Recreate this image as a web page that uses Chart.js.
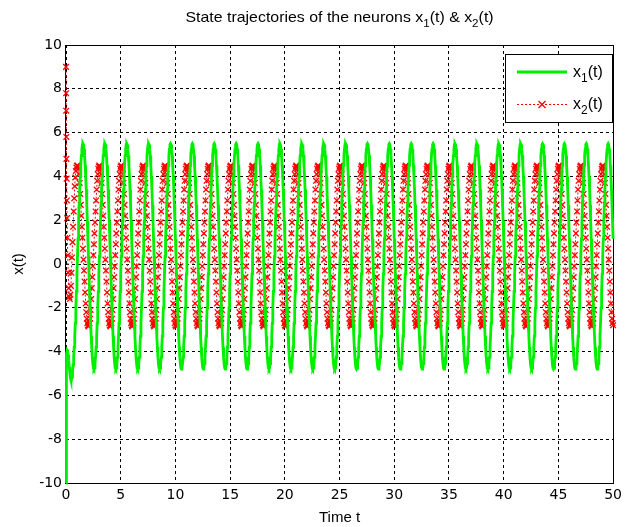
<!DOCTYPE html>
<html>
<head>
<meta charset="utf-8">
<script src="https://cdn.jsdelivr.net/npm/chart.js@4/dist/chart.umd.min.js"></script>
<style>
  html, body { margin: 0; padding: 0; background: #fff; }
  canvas { display: block; }
</style>
</head>
<body>
<canvas id="chart" width="626" height="527"></canvas>
<script>
// start-up part (solver steps are short near t = 0)
const tStart = [0, 0.01, 0.02, 0.03, 0.04, 0.06, 0.08, 0.1, 0.13, 0.16,
  0.2, 0.25, 0.3, 0.35, 0.4, 0.45, 0.5, 0.55, 0.6, 0.65, 0.7, 0.75, 0.8, 0.85, 0.9, 0.95, 1.0]
const x1Start = [-10, -8.6, -7.3, -6.2, -5.3, -4.5, -4.1, -3.95, -3.9, -4.0,
  -4.15, -4.4, -4.7, -5.0, -5.2, -5.3, -5.3, -5.15, -4.9, -4.6, -4.25, -3.8, -3.3, -2.7, -2.0, -1.25, -0.45]
const x2Start = [9.0, 7.8, 7.0, 5.8, 4.8, 3.9, 2.9, 2.1, 1.2, 0.4,
  -0.4, -1.1, -1.5, -1.6, -1.4, -1.0, -0.4, 0.3, 1.0, 1.7, 2.4, 3.0, 3.55, 3.95, 4.25, 4.4, 4.48]

// after that both states repeat with a period of 2; one period, sampled every dt
const cycleStart = 1.05
const dt = 0.05
const tEnd = 50
const x1Cycle = [0.35, 1.15, 1.95, 2.7, 3.4, 4.0, 4.5, 4.95, 5.25, 5.45,
  5.5, 5.45, 5.25, 4.95, 4.5, 4.0, 3.4, 2.7, 1.95, 1.15,
  0.35, -0.45, -1.25, -2.0, -2.7, -3.3, -3.8, -4.25, -4.55, -4.75,
  -4.8, -4.75, -4.55, -4.25, -3.8, -3.3, -2.7, -2.0, -1.25, -0.45]
const x2Cycle = [4.5, 4.45, 4.35, 4.1, 3.7, 3.2, 2.7, 2.2, 1.7, 1.2,
  0.7, 0.2, -0.3, -0.8, -1.3, -1.8, -2.2, -2.5, -2.7, -2.8,
  -2.85, -2.8, -2.7, -2.5, -2.1, -1.6, -1.1, -0.6, -0.1, 0.4,
  0.9, 1.4, 1.9, 2.4, 2.9, 3.4, 3.8, 4.1, 4.35, 4.45]

const xTicks = [0, 5, 10, 15, 20, 25, 30, 35, 40, 45, 50]
const yTicks = [-10, -8, -6, -4, -2, 0, 2, 4, 6, 8, 10]

const green = '#00f000'
const red = '#ff0000'
const font = 'Liberation Sans, Arial, sans-serif'
const tickFont = 'DejaVu Sans, sans-serif'

let x1Points = tStart.map((t, i) => ({ x: t, y: x1Start[i] }))
let x2Points = tStart.map((t, i) => ({ x: t, y: x2Start[i] }))
for (let i = 0; ; i++) {
  const t = Math.round((cycleStart + i * dt) * 1000) / 1000
  if (t > tEnd) break
  x1Points.push({ x: t, y: x1Cycle[i % x1Cycle.length] })
  x2Points.push({ x: t, y: x2Cycle[i % x2Cycle.length] })
}

// text with subscripts: parts are [text, isSub]; sx stretches it sideways
function drawParts(ctx, parts, x, y, size, align, sx = 1) {
  const subSize = Math.round(size * 0.72)
  let w = 0
  for (const [s, sub] of parts) {
    ctx.font = `${sub ? subSize : size}px ${font}`
    w += ctx.measureText(s).width
  }
  ctx.save()
  ctx.translate(x, y)
  ctx.scale(sx, 1)
  let cx = align === 'center' ? -w / 2 : 0
  ctx.textAlign = 'left'
  ctx.textBaseline = 'alphabetic'
  for (const [s, sub] of parts) {
    ctx.font = `${sub ? subSize : size}px ${font}`
    ctx.fillText(s, cx, sub ? size * 0.3 : 0)
    cx += ctx.measureText(s).width
  }
  ctx.restore()
}

const decor = {
  id: 'decor',
  beforeDatasetsDraw(chart) {
    const { ctx, chartArea: a } = chart
    ctx.save()
    ctx.strokeStyle = '#000'
    ctx.lineWidth = 1
    ctx.strokeRect(Math.round(a.left) - 0.5, Math.round(a.top) + 0.5,
      Math.round(a.right - a.left) + 1, Math.round(a.bottom - a.top))
    ctx.restore()
  },
  afterDraw(chart) {
    const { ctx, chartArea: a } = chart
    ctx.save()
    ctx.fillStyle = '#000'
    ctx.strokeStyle = '#000'
    ctx.lineWidth = 1

    // title and axis titles
    drawParts(ctx, [['State trajectories of the neurons x', 0], ['1', 1], ['(t) & x', 0], ['2', 1], ['(t)', 0]],
      (a.left + a.right) / 2, 22, 15, 'center', 1.06)
    drawParts(ctx, [['Time t', 0]], (a.left + a.right) / 2, 522, 15, 'center')
    ctx.save()
    ctx.translate(23, (a.top + a.bottom) / 2)
    ctx.rotate(-Math.PI / 2)
    drawParts(ctx, [['x(t)', 0]], 0, 0, 15, 'center')
    ctx.restore()

    // legend
    const lx = 505.5, ly = 54.5, lw = 107, lh = 68
    ctx.fillStyle = '#fff'
    ctx.fillRect(lx, ly, lw, lh)
    ctx.strokeRect(lx, ly, lw, lh)
    ctx.strokeStyle = green
    ctx.lineWidth = 2.8
    ctx.beginPath(); ctx.moveTo(517, 72); ctx.lineTo(567, 72); ctx.stroke()
    ctx.strokeStyle = red
    ctx.lineWidth = 1
    ctx.setLineDash([2, 2])
    ctx.beginPath(); ctx.moveTo(517, 104.5); ctx.lineTo(567, 104.5); ctx.stroke()
    ctx.setLineDash([])
    ctx.lineWidth = 1.3
    ctx.beginPath()
    ctx.moveTo(538.5, 101); ctx.lineTo(545.5, 108)
    ctx.moveTo(545.5, 101); ctx.lineTo(538.5, 108)
    ctx.stroke()
    ctx.fillStyle = '#000'
    drawParts(ctx, [['x', 0], ['1', 1], ['(t)', 0]], 573, 77, 16, 'left')
    drawParts(ctx, [['x', 0], ['2', 1], ['(t)', 0]], 573, 109, 16, 'left')
    ctx.restore()
  }
}

new Chart(document.getElementById('chart'), {
  type: 'line',
  data: {
    datasets: [
      {
        label: 'x1(t)',
        data: x1Points,
        borderColor: green,
        borderWidth: 2.8,
        pointRadius: 0,
        tension: 0,
        clip: 4,
        order: 0,
      },
      {
        label: 'x2(t)',
        data: x2Points,
        borderColor: red,
        borderWidth: 1,
        borderDash: [2, 2],
        pointStyle: 'crossRot',
        pointRadius: 4,
        pointBorderWidth: 1.3,
        pointBorderColor: red,
        pointBackgroundColor: red,
        tension: 0,
        clip: 6,
        order: 1,
      },
    ],
  },
  options: {
    responsive: false,
    animation: false,
    devicePixelRatio: 1,
    events: [],
    layout: { padding: { top: 45, right: 6, left: 0, bottom: 0 } },
    plugins: { legend: { display: false }, tooltip: { enabled: false }, title: { display: false } },
    scales: {
      x: {
        type: 'linear',
        min: 0,
        max: 50,
        afterFit: (s) => { s.height = 44 },
        afterBuildTicks: (s) => { s.ticks = xTicks.map(v => ({ value: v })) },
        ticks: { color: '#000', font: { family: tickFont, size: 14 }, padding: 4, maxRotation: 0, autoSkip: false },
        grid: { color: '#000', lineWidth: 1, drawTicks: false },
        border: { display: false, dash: [3, 3] },
      },
      y: {
        min: -10,
        max: 10,
        afterFit: (s) => { s.width = 66 },
        afterBuildTicks: (s) => { s.ticks = yTicks.map(v => ({ value: v })) },
        ticks: { color: '#000', font: { family: tickFont, size: 14 }, padding: 4, autoSkip: false },
        grid: { color: '#000', lineWidth: 1, drawTicks: false },
        border: { display: false, dash: [3, 3] },
      },
    },
  },
  plugins: [decor],
})
</script>
</body>
</html>
